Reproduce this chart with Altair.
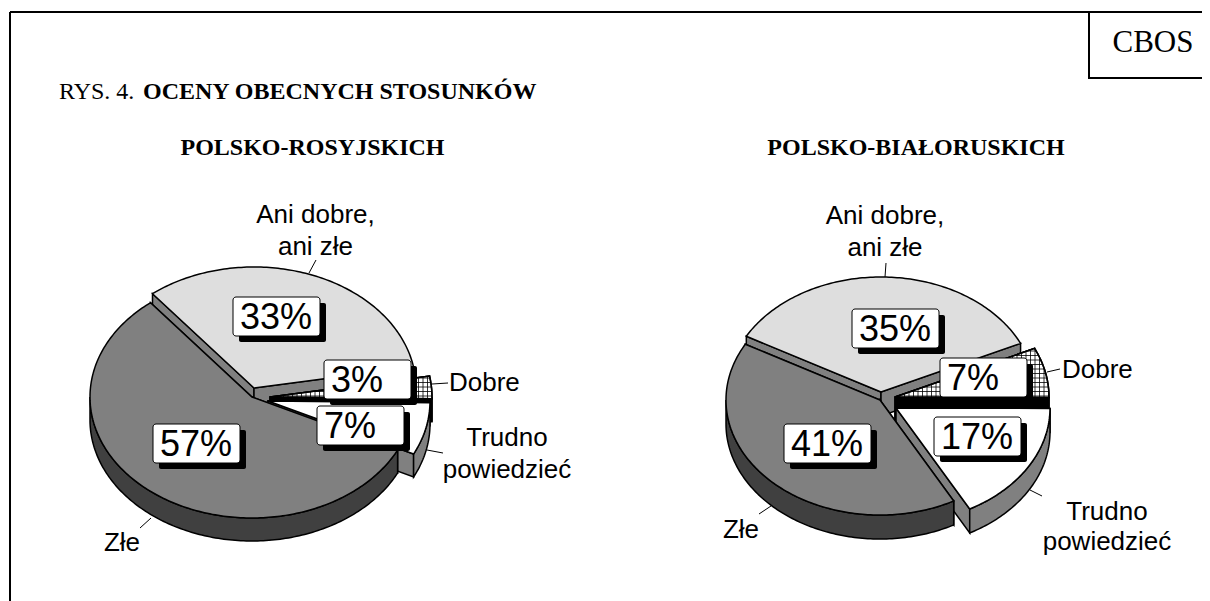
import math
import altair as alt

W, H = 1194, 593
OX, OY = 8, 8

categories = ["Dobre", "Trudno powiedzieć", "Złe", "Ani dobre, ani złe"]
left_values = [3, 7, 57, 33]
right_values = [7, 17, 41, 35]

top_fill = ["white", "white", "#808080", "#dedede"]
wall_fill = ["black", "#808080", "#404040", "#808080"]
draw_order = [3, 0, 1, 2]

left_pie = dict(start=-10, rx=162, ry=121, depth=23,
                centers=[(270, 397), (268, 401), (252, 397), (254, 388)])
right_pie = dict(start=-25, rx=154, ry=115, depth=24,
                 centers=[(895, 397), (896, 408), (880, 400), (881, 392)])

left_badges = [("3%", 324, 360), ("7%", 317, 406), ("57%", 153, 424), ("33%", 233, 297)]
right_badges = [("7%", 940, 358), ("17%", 934, 417), ("41%", 784, 424), ("35%", 852, 309)]
BADGE_W, BADGE_H = 87, 39

leaders = [
    (316, 260, 309, 273), (432, 384, 448, 383), (427, 450, 443, 453), (151, 518, 140, 528),
    (886, 263, 885, 277), (1047, 372, 1060, 369), (1030, 490, 1042, 496), (771, 506, 759, 514),
]
frame = [(10, 12, 1210, 12), (10, 12, 10, 601), (1089, 12, 1089, 78), (1088, 78, 1210, 78)]

sans_labels = [
    ("Ani dobre,", 315.5, 215), ("ani złe", 315.5, 247),
    ("Trudno", 507, 438), ("powiedzieć", 507, 470), ("Złe", 122, 543),
    ("Ani dobre,", 885, 216), ("ani złe", 885, 248),
    ("Trudno", 1107, 512), ("powiedzieć", 1107, 542), ("Złe", 741, 530),
]
sans_left_labels = [("Dobre", 449, 383), ("Dobre", 1062, 370)]
bold_titles = [("POLSKO-ROSYJSKICH", 312.5, 148), ("POLSKO-BIAŁORUSKICH", 916, 148)]
bold_left = [("OCENY OBECNYCH STOSUNKÓW", 143, 92)]
plain_left = [("RYS. 4.", 59, 92)]
corner = [("CBOS", 1153, 43)]


def pt(c, pie, a, dy=0):
    r = math.radians(a)
    return [c[0] + pie["rx"] * math.cos(r), c[1] + pie["ry"] * math.sin(r) + dy]


def arc(c, pie, a0, a1, dy=0):
    n = max(2, int(abs(a1 - a0)) + 1)
    return [pt(c, pie, a0 + (a1 - a0) * i / (n - 1), dy) for i in range(n)]


def feature(kind, coords, fill, width=1.5):
    return {"type": "Feature", "properties": {"fill": fill, "width": width},
            "geometry": {"type": kind, "coordinates": coords}}


def clipped_hatch(poly, step=4.5):
    segs = []
    xs = [p[0] for p in poly]
    ys = [p[1] for p in poly]
    edges = list(zip(poly, poly[1:] + poly[:1]))
    x = math.floor(min(xs) / step) * step
    while x <= max(xs):
        cuts = sorted(p[1] + (x - p[0]) * (q[1] - p[1]) / (q[0] - p[0])
                      for p, q in edges if (p[0] <= x) != (q[0] <= x))
        segs += [[[x, cuts[i]], [x, cuts[i + 1]]] for i in range(0, len(cuts) - 1, 2)]
        x += step
    y = math.floor(min(ys) / step) * step
    while y <= max(ys):
        cuts = sorted(p[0] + (y - p[1]) * (q[0] - p[0]) / (q[1] - p[1])
                      for p, q in edges if (p[1] <= y) != (q[1] <= y))
        segs += [[[cuts[i], y], [cuts[i + 1], y]] for i in range(0, len(cuts) - 1, 2)]
        y += step
    return segs


def pie_features(values, pie):
    feats = []
    starts = []
    a = pie["start"]
    for v in values:
        starts.append((a, a + v * 3.6))
        a += v * 3.6
    d = pie["depth"]
    for i in draw_order:
        a0, a1 = starts[i]
        c = pie["centers"][i]
        wc, tc = wall_fill[i], top_fill[i]
        for ang in (a0, a1):
            p = pt(c, pie, ang)
            q = pt(c, pie, ang, d)
            feats.append(feature("Polygon", [[list(c), p, q, [c[0], c[1] + d], list(c)]], wc))
        lo, hi = max(a0, 0), min(a1, 180)
        if hi > lo:
            ring = arc(c, pie, lo, hi) + arc(c, pie, hi, lo, d)
            feats.append(feature("Polygon", [ring + [ring[0]]], wc))
        ring = [list(c)] + arc(c, pie, a0, a1)
        feats.append(feature("Polygon", [ring + [ring[0]]], tc))
        if i == 0:
            feats.append(feature("MultiLineString", clipped_hatch(ring), "transparent", 0.8))
            feats.append(feature("Polygon", [ring + [ring[0]]], "transparent"))
    return feats


features = pie_features(left_values, left_pie) + pie_features(right_values, right_pie)

pies = alt.Chart(alt.Data(values=features)).mark_geoshape(stroke="black", strokeJoin="miter").encode(
    fill=alt.Fill("properties.fill:N", scale=None, legend=None),
    strokeWidth=alt.StrokeWidth("properties.width:Q", scale=None, legend=None),
).project(type="identity", scale=1, translate=[-OX, -OY])


def px(field):
    return alt.X(field, type="quantitative", scale=None, axis=None)


def py(field):
    return alt.Y(field, type="quantitative", scale=None, axis=None)


def rules(rows, width):
    vals = [dict(x=a - OX, y=b - OY, x2=c - OX, y2=d - OY) for a, b, c, d in rows]
    return alt.Chart(alt.Data(values=vals)).mark_rule(color="black", strokeWidth=width).encode(
        x=px("x"), y=py("y"), x2=alt.X2("x2"), y2=alt.Y2("y2"))


def texts(rows, font, size, align="center", weight="normal"):
    vals = [dict(t=t, x=x - OX, y=y - OY) for t, x, y in rows]
    return alt.Chart(alt.Data(values=vals)).mark_text(
        font=font, fontSize=size, align=align, baseline="middle", fontWeight=weight, color="black"
    ).encode(x=px("x"), y=py("y"), text="t:N")


badges = left_badges + right_badges
shadow_vals = [dict(x=x + 6 - OX, y=y + 6 - OY, x2=x + 6 + BADGE_W - OX, y2=y + 6 + BADGE_H - OY) for _, x, y in badges]
box_vals = [dict(x=x - OX, y=y - OY, x2=x + BADGE_W - OX, y2=y + BADGE_H - OY) for _, x, y in badges]

shadow = alt.Chart(alt.Data(values=shadow_vals)).mark_rect(color="black", cornerRadius=2).encode(
    x=px("x"), y=py("y"), x2=alt.X2("x2"), y2=alt.Y2("y2"))
box = alt.Chart(alt.Data(values=box_vals)).mark_rect(
    fill="white", stroke="black", strokeWidth=1, cornerRadius=3).encode(
    x=px("x"), y=py("y"), x2=alt.X2("x2"), y2=alt.Y2("y2"))
badge_text = texts([(t, x + 7, y + BADGE_H / 2 + 1) for t, x, y in badges],
                   "Liberation Sans", 36, align="left")

chart = alt.layer(
    rules(frame, 2),
    rules(leaders, 1),
    pies,
    shadow,
    box,
    badge_text,
    texts(sans_labels, "Liberation Sans", 26),
    texts(sans_left_labels, "Liberation Sans", 26, align="left"),
    texts(bold_titles, "Liberation Serif", 24, weight="bold"),
    texts(bold_left, "Liberation Serif", 24, align="left", weight="bold"),
    texts(plain_left, "Liberation Serif", 24, align="left"),
    texts(corner, "Liberation Serif", 31),
).properties(width=W, height=H, padding=0, autosize=alt.AutoSizeParams(type="none")).configure_view(stroke=None)

chart.save("out.html", embed_options={"renderer": "svg", "actions": False})
